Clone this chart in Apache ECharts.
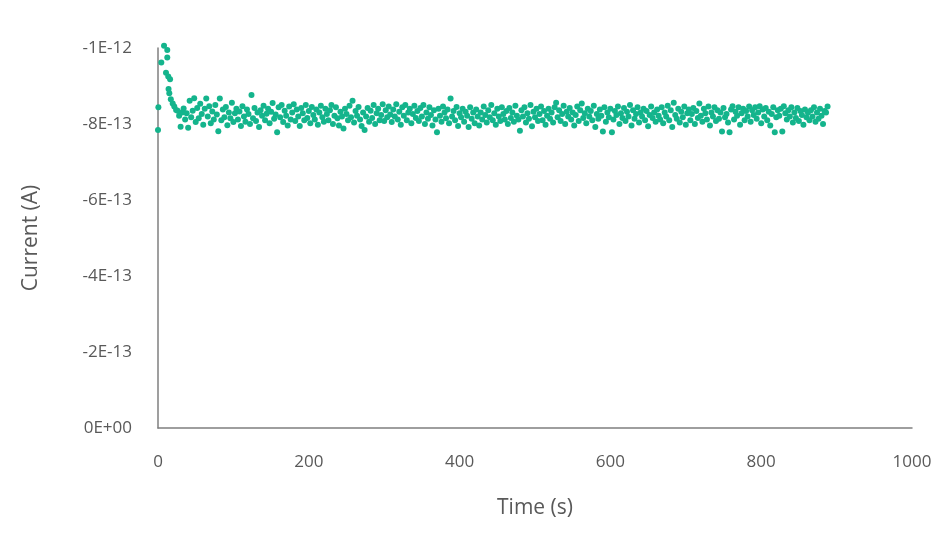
<!DOCTYPE html>
<html>
<head>
<meta charset="utf-8">
<script src="https://cdn.jsdelivr.net/npm/echarts@6/dist/echarts.min.js"></script>
<style>
  html, body { margin: 0; padding: 0; background: #fff; }
  #chart { width: 950px; height: 533px; }
</style>
</head>
<body>
<div id="chart"></div>
<script>
// current is kept in units of 1E-13 A

// start-up transient, read point by point
let transientTimes = [0, 0.5, 4.4, 8, 10.6, 12.3, 12.3, 13.6, 14, 15, 16, 17, 19.5, 21.6, 24]
let transientCurrent = [-7.84, -8.44, -9.62, -10.06, -9.35, -9.95, -9.75, -9.25, -8.92, -8.81, -9.18, -8.65, -8.54, -8.46, -8.37]

// steady part, one reading every 2 s from 26 s
let steadyStart = 26
let steadyStep = 2
let steadyCurrent = [
  -8.35, -8.22, -7.93, -8.3, -8.41, -8.12, -8.28, -7.9, -8.61, -8.18, -8.35, -8.68, -8.05, -8.42, -8.15, -8.53, -8.26, -7.98, -8.4, -8.67,
  -8.2, -8.47, -8.02, -8.33, -8.12, -8.5, -8.25, -7.81, -8.67, -8.1, -8.38, -8.18, -8.45, -7.97, -8.3, -8.15, -8.56, -8.05, -8.28, -8.4,
  -8.12, -8.33, -7.95, -8.47, -8.2, -8.06, -8.38, -8.26, -8.0, -8.76, -8.15, -8.42, -8.08, -8.3, -7.92, -8.36, -8.22, -8.48, -8.1, -8.27,
  -8.4, -8.02, -8.32, -8.55, -8.14, -8.25, -7.78, -8.44, -8.18, -8.5, -8.05, -8.35, -8.22, -7.96, -8.46, -8.12, -8.3, -8.52, -8.08, -8.38,
  -8.2, -7.95, -8.42, -8.28, -8.1, -8.5, -8.16, -8.34, -8.02, -8.45, -8.24, -8.12, -8.38, -7.98, -8.3, -8.48, -8.18, -8.06, -8.4, -8.26,
  -8.1, -8.36, -8.5, -8.0, -8.22, -8.44, -8.15, -7.96, -8.32, -8.2, -7.88, -8.4, -8.26, -8.1, -8.48, -8.18, -8.61, -8.04, -8.34, -8.22,
  -8.45, -8.12, -7.95, -8.3, -7.84, -8.2, -8.42, -8.06, -8.35, -8.16, -8.5, -8.0, -8.28, -8.4, -8.1, -8.24, -8.52, -8.08, -8.36, -8.18,
  -8.46, -8.25, -8.05, -8.38, -8.2, -8.52, -8.12, -8.32, -7.98, -8.44, -8.22, -8.5, -8.1, -8.3, -8.4, -8.02, -8.26, -8.48, -8.16, -8.34,
  -8.08, -8.42, -8.2, -8.5, -8.0, -8.3, -8.14, -8.44, -8.24, -7.96, -8.36, -8.12, -7.78, -8.4, -8.22, -8.06, -8.46, -8.3, -8.15, -8.38,
  -8.02, -8.67, -8.2, -8.34, -8.1, -8.45, -7.95, -8.28, -8.18, -8.4, -8.06, -8.32, -8.22, -7.92, -8.44, -8.14, -8.3, -8.02, -8.38, -8.2,
  -7.96, -8.3, -8.12, -8.46, -8.24, -8.04, -8.36, -8.18, -8.5, -8.1, -8.28, -7.98, -8.4, -8.2, -8.08, -8.44, -8.26, -8.12, -8.34, -8.0,
  -8.42, -8.16, -8.3, -8.06, -8.48, -8.22, -8.12, -7.82, -8.36, -8.2, -8.44, -8.04, -8.28, -8.14, -8.5, -7.94, -8.32, -8.18, -8.4, -8.08,
  -8.26, -8.46, -8.1, -8.34, -7.98, -8.22, -8.4, -8.14, -8.3, -8.04, -8.44, -8.56, -8.18, -8.36, -8.08, -8.26, -8.48, -8.0, -8.32, -8.2,
  -8.42, -8.12, -8.3, -7.96, -8.24, -8.46, -8.08, -8.36, -8.54, -8.16, -8.28, -8.02, -8.4, -8.2, -8.34, -8.1, -8.48, -7.92, -8.26, -8.14,
  -8.38, -8.22, -7.8, -8.44, -8.06, -8.3, -8.18, -8.4, -7.78, -8.12, -8.34, -8.24, -8.46, -8.0, -8.28, -8.16, -8.42, -8.08, -8.32, -8.2,
  -8.5, -7.96, -8.36, -8.14, -8.26, -8.44, -8.04, -8.3, -8.2, -8.4, -8.1, -8.34, -7.94, -8.24, -8.46, -8.16, -8.3, -8.06, -8.38, -8.22,
  -8.12, -8.44, -8.02, -8.3, -8.2, -8.48, -8.1, -8.36, -7.92, -8.56, -8.24, -8.14, -8.4, -8.04, -8.32, -8.18, -8.46, -7.98, -8.28, -8.38,
  -8.1, -8.26, -8.42, -8.0, -8.34, -8.16, -8.54, -8.22, -8.06, -8.4, -8.28, -8.12, -8.46, -7.96, -8.3, -8.2, -8.44, -8.08, -8.36, -8.14,
  -8.3, -7.8, -8.42, -8.18, -8.26, -8.04, -7.78, -8.38, -8.47, -8.12, -8.32, -8.22, -8.44, -7.98, -8.28, -8.4, -8.1, -8.34, -8.2, -8.46,
  -8.06, -8.36, -8.24, -8.44, -8.14, -8.3, -8.47, -8.02, -8.38, -8.2, -8.42, -8.1, -8.32, -7.96, -8.26, -8.44, -7.78, -8.18, -8.36, -8.22,
  -8.4, -7.8, -8.47, -8.28, -8.12, -8.36, -8.2, -8.44, -8.04, -8.3, -8.16, -8.42, -8.08, -8.34, -8.24, -7.98, -8.38, -8.18, -8.3, -8.1,
  -8.36, -8.2, -8.44, -8.06, -8.3, -8.14, -8.4, -8.22, -8.0, -8.34, -8.3, -8.46
]

let xTicks = [0, 200, 400, 600, 800, 1000]
let yTickLabels = ['0E+00', '-2E-13', '-4E-13', '-6E-13', '-8E-13', '-1E-12']

let points = transientTimes.map((t, i) => [t, transientCurrent[i]])
  .concat(steadyCurrent.map((v, i) => [steadyStart + i * steadyStep, v]))

let chart = echarts.init(document.getElementById('chart'), null, { renderer: 'canvas' })
let font = '"Open Sans", "Noto Sans", sans-serif'

chart.setOption({
  backgroundColor: '#fff',
  animation: false,
  grid: {
    left: 158,
    right: 38,
    top: 48,
    bottom: 105
  },
  xAxis: {
    type: 'value',
    min: xTicks[0],
    max: xTicks[xTicks.length - 1],
    interval: 200,
    name: 'Time (s)',
    nameLocation: 'middle',
    nameGap: 70,
    nameTextStyle: { color: '#595959', fontSize: 21, fontFamily: font },
    axisLine: { show: true, lineStyle: { color: '#7f7f7f', width: 1.5 } },
    axisTick: { show: false },
    splitLine: { show: false },
    axisLabel: {
      color: '#595959',
      fontSize: 17,
      fontFamily: font,
      margin: 26,
      formatter: v => String(v)
    }
  },
  yAxis: {
    type: 'value',
    min: -10,
    max: 0,
    interval: 2,
    inverse: true,
    name: 'Current (A)',
    nameLocation: 'middle',
    nameGap: 116,
    nameTextStyle: { color: '#595959', fontSize: 21, fontFamily: font },
    axisLine: { show: true, onZero: false, lineStyle: { color: '#7f7f7f', width: 1.5 } },
    axisTick: { show: false },
    splitLine: { show: false },
    axisLabel: {
      color: '#595959',
      fontSize: 17,
      fontFamily: font,
      margin: 26,
      formatter: v => yTickLabels[Math.round(-v / 2)]
    }
  },
  series: [
    {
      type: 'scatter',
      data: points,
      symbolSize: 6,
      clip: false,
      itemStyle: { color: '#14b48c', opacity: 1 }
    }
  ]
})
</script>
</body>
</html>
